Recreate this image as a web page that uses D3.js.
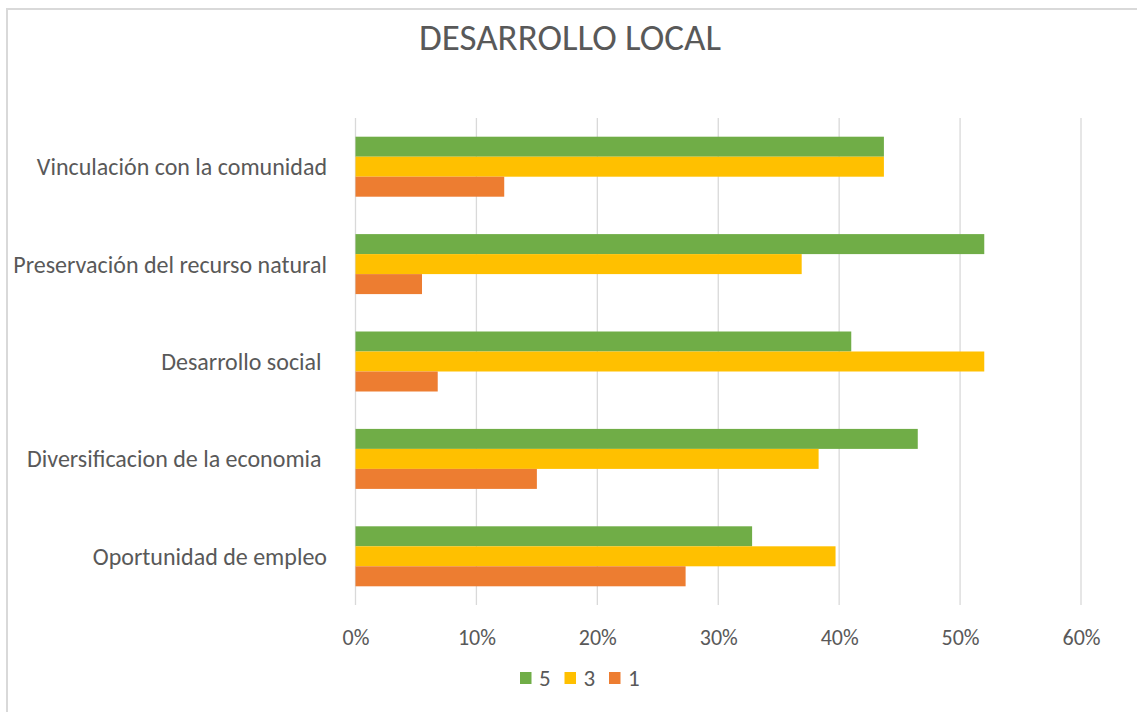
<!DOCTYPE html>
<html>
<head>
<meta charset="utf-8">
<script src="https://cdn.jsdelivr.net/npm/d3@7"></script>
<style>
	body {margin: 0; background: #fff;}
	svg text {font-family: Carlito, Lato, sans-serif; fill: #595959;}
	.cat {white-space: pre;}
	line.grid {stroke: #d9d9d9; stroke-width: 1.3;}
</style>
</head>
<body>
<div class="chart"></div>
<script>
var categories = ['Vinculación con la comunidad', 'Preservación del recurso natural', 'Desarrollo social ', 'Diversificacion de la economia ', 'Oportunidad de empleo'];
var series = ['5', '3', '1'];
var colors = ['#70ad47', '#ffc000', '#ed7d31'];
var values5 = [0.437, 0.520, 0.410, 0.465, 0.328];
var values3 = [0.437, 0.369, 0.520, 0.383, 0.397];
var values1 = [0.123, 0.055, 0.068, 0.150, 0.273];
var ticks = [0, 0.1, 0.2, 0.3, 0.4, 0.5, 0.6];

Chart = {
	init: function() {
		this.p = {width: 1137, height: 712, left: 355.5, right: 1081, top: 118, bottom: 605};
		this.svg = d3.select('.chart').append('svg').attr('width', this.p.width).attr('height', this.p.height);
		this.x = d3.scaleLinear().domain([0, 0.6]).range([this.p.left, this.p.right]);
		this.y = d3.scaleBand().domain(categories).range([this.p.top, this.p.bottom]).paddingInner(0.384).paddingOuter(0.192);
		this.inner = d3.scaleBand().domain(series).range([0, this.y.bandwidth()]);

		this.drawFrame();
		this.drawGrid();
		this.drawBars();
		this.drawLabels();
		this.drawLegend();
	},

	drawFrame: function() {
		// only the left and top edges of the chart box show in the picture
		this.svg.append('path').attr('d', 'M7,712 L7,9 L1137,9').attr('fill', 'none').attr('stroke', '#d9d9d9').attr('stroke-width', 2);
		this.svg.append('text').attr('x', 570).attr('y', 50).attr('text-anchor', 'middle').style('font-size', '37px').text('DESARROLLO LOCAL');
	},

	drawGrid: function() {
		var x = this.x, p = this.p;
		this.svg.selectAll('line.grid').data(ticks).enter().append('line').attr('class', 'grid')
			.attr('x1', function(d) {return x(d);}).attr('x2', function(d) {return x(d);})
			.attr('y1', p.top).attr('y2', p.bottom);

		var axis = d3.axisBottom(x).tickValues(ticks).tickFormat(d3.format('.0%')).tickSize(0).tickPadding(0);
		var g = this.svg.append('g').attr('transform', 'translate(0,' + (p.bottom + 40) + ')').call(axis);
		g.select('.domain').remove();
		g.selectAll('text').attr('dy', 0).style('font-size', '22px');
	},

	drawBars: function() {
		var x = this.x, y = this.y, inner = this.inner;
		var all = [values5, values3, values1];
		var rows = [];
		for (var s = 0; s < series.length; s++) {
			for (var i = 0; i < categories.length; i++) {
				rows.push({cat: categories[i], s: series[s], color: colors[s], v: all[s][i]});
			}
		}
		this.svg.append('g').selectAll('rect').data(rows).enter().append('rect')
			.attr('x', x(0))
			.attr('y', function(d) {return y(d.cat) + inner(d.s);})
			.attr('width', function(d) {return x(d.v) - x(0);})
			.attr('height', inner.bandwidth())
			.attr('fill', function(d) {return d.color;});
	},

	drawLabels: function() {
		var y = this.y;
		this.svg.append('g').selectAll('text').data(categories).enter().append('text').attr('class', 'cat')
			.attr('x', 327).attr('y', function(d) {return y(d) + y.bandwidth() / 2;})
			.attr('dy', '0.35em').attr('text-anchor', 'end').style('font-size', '24px')
			.text(function(d) {return d;});
	},

	drawLegend: function() {
		var g = this.svg.append('g').attr('transform', 'translate(520,672)');
		var item = g.selectAll('g').data(series).enter().append('g')
			.attr('transform', function(d, i) {return 'translate(' + (i * 44.5) + ',0)';});
		item.append('rect').attr('width', 11.5).attr('height', 12).attr('fill', function(d, i) {return colors[i];});
		item.append('text').attr('x', 19).attr('y', 6).attr('dy', '0.36em').style('font-size', '23px').text(function(d) {return d;});
	}
}

Chart.init();
</script>
</body>
</html>
